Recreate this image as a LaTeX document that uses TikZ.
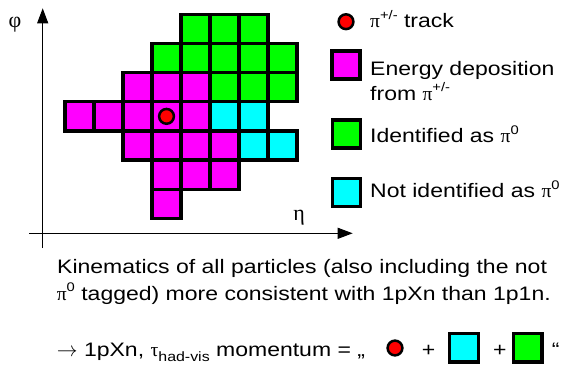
\documentclass[tikz,border=0pt]{standalone}
\usepackage{fontspec}
\setmainfont{Liberation Sans}[FakeStretch=1.18]
\newfontfamily\grk{Liberation Serif}
\usetikzlibrary{arrows.meta}
\newcommand{\mysup}[1]{\raisebox{0.42em}{\fontsize{12.5}{12.5}\selectfont #1}}
\newcommand{\mysub}[1]{\raisebox{-0.28em}{\fontsize{13.5}{13.5}\selectfont #1}}
\definecolor{mag}{HTML}{FF00FF}
\definecolor{grn}{HTML}{00FF00}
\definecolor{cyn}{HTML}{00FFFF}
\definecolor{red0}{HTML}{FF0000}
\begin{document}
\begin{tikzpicture}[x=1pt,y=-1pt,
  cell/.style={draw=black, line width=3.4pt, minimum width=29pt, minimum height=29.15pt, inner sep=0pt, outer sep=0pt},
  legbox/.style={draw=black, line width=3.4pt, minimum size=28pt, inner sep=0pt},
  trackdot/.style={circle, fill=red0, draw=black, line width=2.5pt, minimum size=14.8pt, inner sep=0pt},
  axis/.style={line width=1pt, -{Triangle[length=15pt,width=11pt]}},
  txt/.style={inner sep=0pt, font=\fontsize{19.5}{27}\selectfont},
  greek/.style={inner sep=0pt, font=\grk\fontsize{22}{22}\selectfont}]
\useasboundingbox (0,0) rectangle (568,367);
% axes
\coordinate (yb) at (42.7,248);
\coordinate (yt) at (42.7,8.3);
\coordinate (xl) at (29.3,233.3);
\coordinate (xr) at (352.7,233.3);
\draw[axis] (yb) -- (yt);
\draw[axis] (xl) -- (xr);
\node[greek] (phi) at (15,25) {φ};
\node[greek] (eta) at (299,218) {η};
% grid cells
\foreach \r/\c/\col in {0/4/grn,0/5/grn,0/6/grn,
  1/3/grn,1/4/grn,1/5/grn,1/6/grn,1/7/grn,
  2/2/mag,2/3/mag,2/4/mag,2/5/grn,2/6/grn,2/7/grn,
  3/0/mag,3/1/mag,3/2/mag,3/3/mag,3/4/mag,3/5/cyn,3/6/cyn,
  4/2/mag,4/3/mag,4/4/mag,4/5/mag,4/6/cyn,4/7/cyn,
  5/3/mag,5/4/mag,5/5/mag,
  6/3/mag}
  \node[cell, fill=\col] (c-\r-\c) at ({79.5+29*\c},{28.9+29.15*\r}) {};
\node[trackdot] (track) at (c-3-3) {};
% legend
\node[trackdot] (ldot) at (346,21.7) {};
\node[txt, anchor=base west] (ltrack) at (370,27.3) {{\grk π}\mysup{+/-} track};
\node[legbox, fill=mag] (lmag) at (346,65) {};
\node[txt, anchor=base west] (lmag1) at (370,75) {Energy deposition};
\node[txt, anchor=base west] (lmag2) at (370,100) {from {\grk π}\mysup{+/-}};
\node[legbox, fill=grn] (lgrn) at (346.7,134) {};
\node[txt, anchor=base west] (lgrnt) at (370,142.7) {Identified as {\grk π}\mysup{0}};
\node[legbox, fill=cyn] (lcyn) at (346.7,192.5) {};
\node[txt, anchor=base west] (lcynt) at (370,197.3) {Not identified as {\grk π}\mysup{0}};
% bottom text
\node[txt, anchor=base west] (b1) at (57,273.3) {Kinematics of all particles (also including the not};
\node[txt, anchor=base west] (b2) at (56.7,300) {{\grk π}\mysup{0} tagged) more consistent with 1pXn than 1p1n.};
\node[txt, anchor=base west] (b3) at (56.7,356) {{\fontsize{22}{22}\selectfont$\rightarrow$} 1pXn, {\grk τ}\mysub{had-vis} momentum = „};
\node[trackdot] (bdot) at (395,348) {};
\node[txt, anchor=base west] (bp1) at (421.7,356) {+};
\node[legbox, fill=cyn, minimum size=28.6pt] (bcyn) at (464,347.5) {};
\node[txt, anchor=base west] (bp2) at (493,356) {+};
\node[legbox, fill=grn, minimum size=28.6pt] (bgrn) at (527.5,347.5) {};
\node[txt, anchor=base west] (bq) at (551.7,356) {“};
\end{tikzpicture}
\end{document}
